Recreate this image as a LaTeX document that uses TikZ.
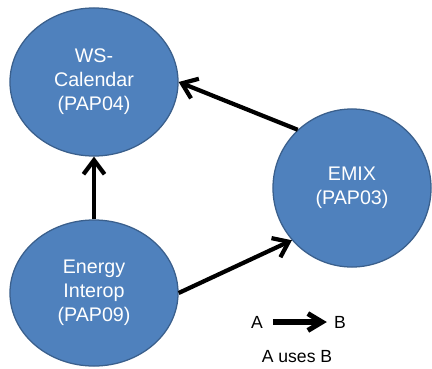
\documentclass[tikz,border=0pt]{standalone}
\usepackage{fontspec}
\setmainfont{Liberation Sans}
\usetikzlibrary{arrows.meta,shapes.geometric,positioning}
\tikzset{%
  papnode/.style={ellipse,draw=papborder,line width=0.9pt,fill=papfill,
    text=white,align=center,inner sep=0pt,font=\fontsize{14}{17}\selectfont},
  usesarrow/.style={line width=3pt,-{Straight Barb[length=10pt,width=15pt,line width=3pt]}},
  legendtext/.style={font=\fontsize{12.5}{15}\selectfont,inner sep=1pt}
}

\begin{document}
\begin{tikzpicture}[x=0.025cm,y=-0.025cm]
% ---- colors ----
\definecolor{papfill}{HTML}{4F81BD}    % ellipse body
\definecolor{papborder}{HTML}{3A5F8C}  % ellipse outline

% canvas
\useasboundingbox (0,0) rectangle (432,368);

% ===================== the three PAPs =====================
\node[papnode,minimum width=4.2cm,minimum height=3.7cm] (wscal) at (94,82)
  {WS-\\Calendar\\(PAP04)};
\node[papnode,minimum width=3.95cm,minimum height=3.95cm] (emix) at (352,188)
  {EMIX\\(PAP03)};
\node[papnode,minimum width=4.2cm,minimum height=3.65cm] (energy) at (94,293)
  {Energy\\Interop\\(PAP09)};

% ---- uses relations ----
\draw[usesarrow] (energy) -- (wscal);
\draw[usesarrow] (energy.east) -- (emix.221);
\draw[usesarrow] (emix.133) -- (wscal.east);

% ===================== legend =====================
\node[legendtext] (lega) at (257,322) {A};
\node[legendtext] (legb) at (340,322) {B};
\node[legendtext] (legnote) at (297,357) {A uses B};
\draw[usesarrow,line width=3.6pt,
  -{Straight Barb[length=10pt,width=12pt,line width=3.6pt]}]
  ([xshift=6]lega.east) -- ([xshift=-4]legb.west);

\end{tikzpicture}
\end{document}
